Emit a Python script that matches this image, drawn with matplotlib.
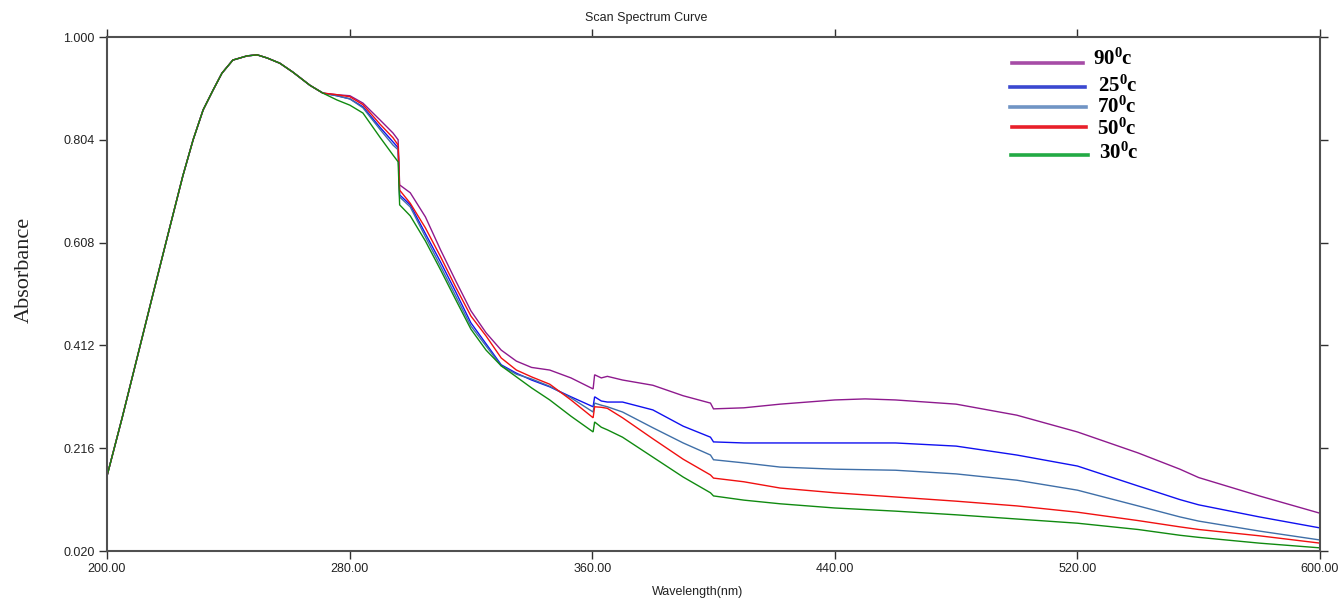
import matplotlib
matplotlib.use("Agg")
import matplotlib.pyplot as plt
from matplotlib.lines import Line2D

# ---------------- data ----------------
wl_common = [200, 205, 210, 215, 220, 225, 228.4, 231.7, 235, 237.9, 241.5, 246.2,
             249.5, 252.8, 257, 261.3, 266.9, 271.2]
a_common = [0.163, 0.274, 0.390, 0.506, 0.621, 0.735, 0.804, 0.861, 0.899, 0.931, 0.956, 0.964,
            0.966, 0.960, 0.950, 0.933, 0.908, 0.893]

wl_tail = [275.8, 280.1, 284.4, 290, 294.3, 296.0, 296.5,
           300, 305, 310, 315, 320, 325, 330, 335, 340, 346, 353, 360.3,
           360.8, 363, 365, 370, 380, 390, 399,
           400, 410, 422, 440, 450, 460, 480, 500, 520, 540, 553.8, 560, 580, 600]

a_90 = [0.890, 0.888, 0.874, 0.842, 0.817, 0.804, 0.718,
        0.703, 0.657, 0.594, 0.535, 0.478, 0.436, 0.403, 0.382, 0.370, 0.365, 0.350, 0.329,
        0.356, 0.350, 0.353, 0.346, 0.336, 0.316, 0.302,
        0.291, 0.293, 0.300, 0.308, 0.310, 0.308, 0.300, 0.279, 0.247, 0.207, 0.176, 0.160, 0.125, 0.092]
a_25 = [0.888, 0.882, 0.867, 0.828, 0.800, 0.789, 0.699,
        0.680, 0.625, 0.571, 0.514, 0.455, 0.415, 0.375, 0.359, 0.346, 0.333, 0.314, 0.295,
        0.314, 0.306, 0.304, 0.304, 0.289, 0.258, 0.237,
        0.228, 0.226, 0.226, 0.226, 0.226, 0.226, 0.220, 0.203, 0.182, 0.144, 0.118, 0.108, 0.085, 0.064]
a_70 = [0.888, 0.882, 0.865, 0.824, 0.794, 0.785, 0.695,
        0.676, 0.619, 0.563, 0.506, 0.449, 0.411, 0.373, 0.357, 0.348, 0.334, 0.312, 0.285,
        0.302, 0.298, 0.295, 0.285, 0.255, 0.226, 0.203,
        0.194, 0.188, 0.180, 0.176, 0.175, 0.174, 0.167, 0.155, 0.136, 0.106, 0.085, 0.077, 0.058, 0.041]
a_50 = [0.890, 0.886, 0.871, 0.834, 0.808, 0.794, 0.708,
        0.683, 0.636, 0.581, 0.523, 0.468, 0.430, 0.388, 0.365, 0.352, 0.338, 0.308, 0.274,
        0.295, 0.294, 0.292, 0.274, 0.234, 0.195, 0.165,
        0.159, 0.152, 0.140, 0.131, 0.127, 0.123, 0.115, 0.106, 0.094, 0.078, 0.066, 0.061, 0.049, 0.035]
a_30 = [0.880, 0.870, 0.855, 0.809, 0.775, 0.762, 0.680,
        0.659, 0.611, 0.556, 0.499, 0.443, 0.403, 0.373, 0.352, 0.331, 0.308, 0.277, 0.247,
        0.266, 0.256, 0.251, 0.237, 0.199, 0.161, 0.131,
        0.125, 0.117, 0.110, 0.102, 0.099, 0.096, 0.089, 0.081, 0.073, 0.061, 0.050, 0.046, 0.035, 0.026]

labels = ["90", "25", "70", "50", "30"]
x_ticks = [200, 280, 360, 440, 520, 600]
y_ticks = [0.020, 0.216, 0.412, 0.608, 0.804, 1.000]

# ---------------- figure ----------------
W, H = 1343, 604
fig = plt.figure(figsize=(W / 100, H / 100), dpi=100)
fig.patch.set_facecolor("white")
ax = fig.add_axes([107 / W, 53 / H, 1213 / W, 514 / H])

line_cols = ["#8E1A8E", "#1010F0", "#3F6FA8", "#F01010", "#108A10"]
series = [a_90, a_25, a_70, a_50, a_30]
wl = wl_common + wl_tail
for vals, c in zip(series, line_cols):
    ax.plot(wl, a_common + vals, color=c, lw=1.0, solid_joinstyle="miter")

ax.set_xlim(200, 600)
ax.set_ylim(0.020, 1.000)
ax.set_xticks(x_ticks)
ax.set_xticklabels([f"{v:.2f}" for v in x_ticks])
ax.set_yticks(y_ticks)
ax.set_yticklabels([f"{v:.3f}" for v in y_ticks])
ax.tick_params(direction="out", length=6, width=1, color="#303030",
               top=True, right=True, labelsize=9, labelcolor="#222222", pad=3)
for lab in ax.get_xticklabels() + ax.get_yticklabels():
    lab.set_family("Liberation Sans")
for sp in ax.spines.values():
    sp.set_color("#505050")
    sp.set_linewidth(1.5)

fig.text(646 / W, 1 - 18 / H, "Scan Spectrum Curve", ha="center", va="center",
         fontsize=9, family="Liberation Sans", color="#222222")
fig.text(698 / W, 1 - 592 / H, "Wavelength(nm)", ha="center", va="center",
         fontsize=9, family="Liberation Sans", color="#222222")
fig.text(24 / W, 1 - 270 / H, "Absorbance", ha="center", va="center", rotation=90,
         fontsize=16, family="Liberation Serif", color="#222222")

# ---------------- custom legend ----------------
plt.rcParams["mathtext.fontset"] = "custom"
plt.rcParams["mathtext.rm"] = "Liberation Serif"
plt.rcParams["mathtext.bf"] = "Liberation Serif:bold"
leg_cols = ["#A64CA6", "#3A48D0", "#7094C4", "#E8202A", "#22AA44"]
leg_lines = [(1012, 1083, 63), (1010, 1085, 87), (1010, 1086, 107), (1012, 1086, 127), (1011, 1088, 155)]
leg_text = [(1093, 58), (1098, 85), (1097, 106), (1097, 128), (1099, 152)]
for lab, c, (x0, x1, y), (tx, ty) in zip(labels, leg_cols, leg_lines, leg_text):
    fig.add_artist(Line2D([x0 / W, x1 / W], [1 - y / H, 1 - y / H], color=c, lw=2.6,
                          transform=fig.transFigure))
    fig.text(tx / W, 1 - ty / H, r"$\mathbf{" + lab + r"^{0}c}$", ha="left", va="center",
             fontsize=15, color="black")

fig.savefig("out.png", dpi=100)
